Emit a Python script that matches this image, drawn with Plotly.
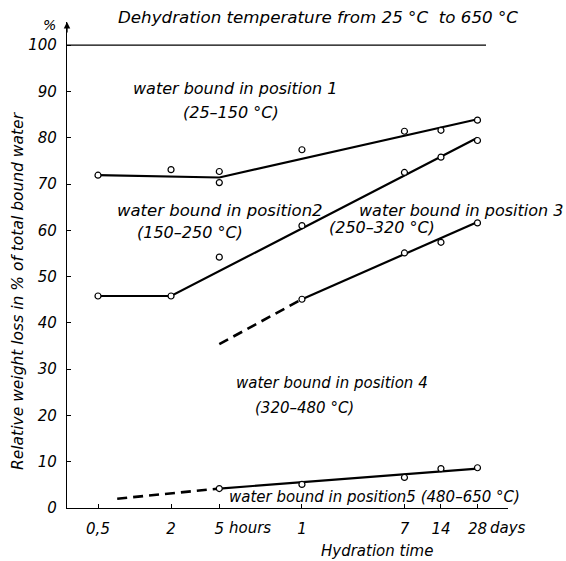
import math
import plotly.graph_objects as go

# Hydration time (hours) and the axis labels shown for it
tick_hours = [0.5, 2, 5, 24, 168, 336, 672]
tick_text = ["0,5", "2", "5", "1", "7", "14", "28"]
y_ticks = [0, 10, 20, 30, 40, 50, 60, 70, 80, 90, 100]

# Measured points: cumulative relative weight loss (% of total bound water)
pos1_t = [0.5, 2, 5, 5, 24, 168, 336, 672]
pos1_v = [71.9, 73.1, 72.7, 70.3, 77.4, 81.4, 81.6, 83.8]
pos2_t = [0.5, 2, 5, 24, 168, 336, 672]
pos2_v = [45.8, 45.8, 54.2, 61.0, 72.5, 75.8, 79.4]
pos3_t = [24, 168, 336, 672]
pos3_v = [45.1, 55.1, 57.4, 61.6]
pos5_t = [5, 24, 168, 336, 672]
pos5_v = [4.2, 5.1, 6.6, 8.5, 8.7]

# Boundary lines between the water positions
fit1_t = [0.5, 5, 672]
fit1_v = [71.9, 71.4, 84.0]
fit2_t = [0.5, 2, 672]
fit2_v = [45.8, 45.8, 80.0]
fit3_t = [24, 672]
fit3_v = [45.1, 61.8]
ext3_t = [5, 24]
ext3_v = [35.4, 45.1]
fit5_t = [5, 672]
fit5_v = [4.2, 8.5]
ext5_t = [0.72, 5]
ext5_v = [2.0, 4.2]

# Total bound water (100 %)
total_t = [0.2776, 790]
total_v = [100, 100]

FONT = "DejaVu Sans"
W, H = 566, 561
ML, MR, MT, MB = 67, 58, 22, 53
PW, PH = W - ML - MR, H - MT - MB


def paper(px, py):
    return (px - ML) / PW, (H - MB - py) / PH


fig = go.Figure()

solid = dict(color="black", width=2.2)
dashed = dict(color="black", width=2.6, dash="10px,6px")

fig.add_trace(go.Scatter(x=total_t, y=total_v, mode="lines",
                         line=dict(color="black", width=1.4)))
for t, v in [(fit1_t, fit1_v), (fit2_t, fit2_v), (fit3_t, fit3_v), (fit5_t, fit5_v)]:
    fig.add_trace(go.Scatter(x=t, y=v, mode="lines", line=solid))
for t, v in [(ext3_t, ext3_v), (ext5_t, ext5_v)]:
    fig.add_trace(go.Scatter(x=t, y=v, mode="lines", line=dashed))

marker = dict(symbol="circle", size=6, color="white",
              line=dict(color="black", width=1.2))
for t, v in [(pos1_t, pos1_v), (pos2_t, pos2_v), (pos3_t, pos3_v), (pos5_t, pos5_v)]:
    fig.add_trace(go.Scatter(x=t, y=v, mode="markers", marker=marker))

# (text, left x px, centre y px, font size)
labels = [
    ("water bound in position 1", 131, 89, 16),
    ("(25–150 °C)", 181, 112, 16),
    ("water bound in position2", 115, 210, 16.5),
    ("(150–250 °C)", 135, 232, 16),
    ("water bound in position 3", 357, 210, 16),
    ("(250–320 °C)", 327, 228, 16),
    ("water bound in position 4", 234, 383, 15),
    ("(320–480 °C)", 253, 408, 15),
    ("water bound in position5 (480–650 °C)", 227, 497, 15),
]


def note(text, px, py, size, xanchor="left", **kw):
    x, y = paper(px, py)
    return dict(text=text, x=x, y=y, xref="paper", yref="paper",
                xanchor=xanchor, yanchor="middle", showarrow=False,
                font=dict(family=FONT, size=size, style="italic"), **kw)


annotations = [note(t, px, py, s) for t, px, py, s in labels]
annotations += [
    note("Dehydration temperature from 25 °C  to 650 °C", 318, 17, 16.7, "center"),
    note("%", 49, 25, 14, "center"),
    note("hours", 227, 528, 15),
    note("days", 488, 528, 15),
    note("Hydration time", 377, 551, 15, "center"),
    note("Relative weight loss in % of total bound water", 18, 291, 15.5,
         "center", textangle=-90),
    # arrow head on top of the y axis
    dict(text="", x=0, y=105, xref="paper", yref="y",
         showarrow=True, arrowhead=2, arrowsize=1, arrowwidth=1.3,
         ax=0, ay=12, arrowcolor="black"),
]

fig.update_layout(
    width=W, height=H,
    margin=dict(l=ML, r=MR, t=MT, b=MB),
    paper_bgcolor="white", plot_bgcolor="white",
    showlegend=False,
    font=dict(family=FONT, size=15, color="black", style="italic"),
    annotations=annotations,
    xaxis=dict(type="log", range=[math.log10(0.2776), 3.079],
               tickvals=tick_hours, ticktext=tick_text,
               showline=True, linecolor="black", linewidth=1.3,
               ticks="inside", ticklen=4, tickcolor="black",
               showgrid=False, zeroline=False, ticklabelstandoff=7),
    yaxis=dict(range=[0, 105], tickvals=y_ticks,
               showline=True, linecolor="black", linewidth=1.3,
               ticks="inside", ticklen=4, tickcolor="black",
               showgrid=False, zeroline=False, ticklabelstandoff=6),
)

fig.write_html("out.html")
